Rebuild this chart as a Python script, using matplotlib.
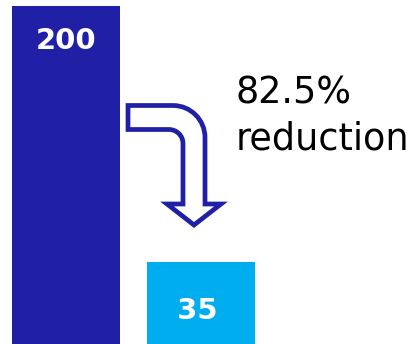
import matplotlib
matplotlib.use("Agg")
import matplotlib.pyplot as plt
from matplotlib.path import Path
from matplotlib.patches import PathPatch
from matplotlib.transforms import Affine2D

categories = ["Before", "After"]
values = [200, 35]
value_labels = ["200", "35"]
bar_colors = ["#2020A6", "#00ADEF"]
annotation = "82.5%\nreduction"

W, H = 416, 344
fig = plt.figure(figsize=(W / 100, H / 100), dpi=100)
ax = fig.add_axes([0, 0, 1, 1])
baseline = -17.6
ax.set_xlim(-66 / 135, (W - 66) / 135)
ax.set_ylim(baseline, 203.9)
ax.axis("off")

x = list(range(len(categories)))
bars = ax.bar(x, [v - baseline for v in values], bottom=baseline, width=0.8,
              color=bar_colors, linewidth=0)

label_offsets = [(0, -23), (-3, -33)]
for xi, v, lab, off in zip(x, values, value_labels, label_offsets):
    ax.annotate(lab, (xi, v), xytext=off, textcoords="offset points",
                ha="center", va="center_baseline", color="white",
                fontsize=21, fontweight="bold", family="DejaVu Sans")

# bent arrow (decoration), defined in pixel coordinates (y down)
k = 0.5523
ro, ri = 32, 14
pts = [
    (128, 105.5), (173, 105.5),
    (173 + k * ro, 105.5), (205, 105.5 + ro - k * ro), (205, 105.5 + ro),
    (205, 204), (221, 204), (194, 225), (167, 204), (183, 204),
    (183, 129.5 + ri),
    (183, 129.5 + ri - k * ri), (183 - ri + k * ri, 129.5), (183 - ri, 129.5),
    (128, 129.5), (128, 105.5),
]
codes = [Path.MOVETO, Path.LINETO,
         Path.CURVE4, Path.CURVE4, Path.CURVE4,
         Path.LINETO, Path.LINETO, Path.LINETO, Path.LINETO, Path.LINETO,
         Path.LINETO,
         Path.CURVE4, Path.CURVE4, Path.CURVE4,
         Path.LINETO, Path.CLOSEPOLY]
path = Path(pts, codes)
tr = Affine2D().scale(1, -1).translate(0, H)
patch = PathPatch(path, transform=tr, facecolor="white", edgecolor=bar_colors[0],
                  linewidth=3.4, joinstyle="miter")
fig.patches.append(patch)

line_baselines = [103, 150]
for line, yb in zip(annotation.split("\n"), line_baselines):
    fig.text(236 / W, 1 - yb / H, line, ha="left", va="baseline",
             fontsize=26.3, color="black", family="DejaVu Sans")

fig.savefig("out.png", dpi=100)
